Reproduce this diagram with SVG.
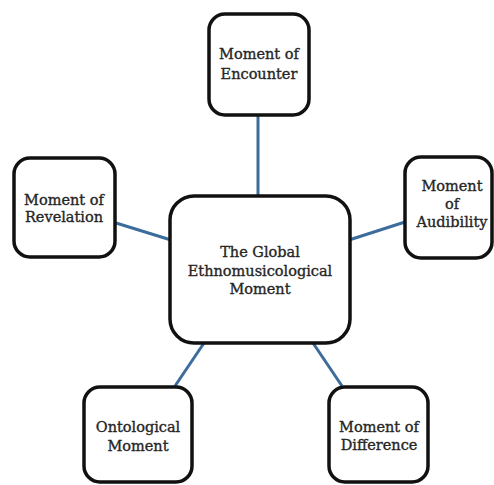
<svg xmlns="http://www.w3.org/2000/svg" width="494" height="485" viewBox="0 0 494 485">
<style>
.box{fill:#fff;stroke:#111;stroke-width:3.5}
.lbl{font-family:"DejaVu Serif","Liberation Serif",serif;font-size:14.5px;fill:#262626;stroke:#262626;stroke-width:0.35;text-anchor:middle}
.con{stroke:#3b6c9c;stroke-width:3;fill:none}
</style>
<rect width="494" height="485" fill="#fff"/>
<g id="connectors">
<line class="con" x1="258" y1="115" x2="258" y2="196"/>
<line class="con" x1="116" y1="223" x2="171" y2="240"/>
<line class="con" x1="349" y1="240" x2="405" y2="222"/>
<line class="con" x1="204" y1="343" x2="175" y2="386"/>
<line class="con" x1="313" y1="343" x2="342" y2="386"/>
</g>
<g id="center">
<rect class="box" x="170" y="196" width="180" height="147" rx="24"/>
<text class="lbl" x="260" y="257">The Global</text>
<text class="lbl" x="260" y="276">Ethnomusicological</text>
<text class="lbl" x="260" y="294">Moment</text>
</g>
<g id="encounter">
<rect class="box" x="209" y="14" width="100" height="101" rx="16"/>
<text class="lbl" x="259" y="59">Moment of</text>
<text class="lbl" x="259" y="79">Encounter</text>
</g>
<g id="revelation">
<rect class="box" x="14" y="158" width="101" height="99" rx="16"/>
<text class="lbl" x="64" y="205">Moment of</text>
<text class="lbl" x="64" y="222">Revelation</text>
</g>
<g id="audibility">
<rect class="box" x="405" y="157" width="87" height="101" rx="16"/>
<text class="lbl" x="452" y="191">Moment</text>
<text class="lbl" x="452" y="209">of</text>
<text class="lbl" x="452" y="227">Audibility</text>
</g>
<g id="ontological">
<rect class="box" x="84" y="387" width="108" height="95" rx="16"/>
<text class="lbl" x="138" y="432">Ontological</text>
<text class="lbl" x="138" y="451">Moment</text>
</g>
<g id="difference">
<rect class="box" x="329" y="387" width="99" height="95" rx="16"/>
<text class="lbl" x="379" y="432">Moment of</text>
<text class="lbl" x="379" y="450">Difference</text>
</g>
</svg>
